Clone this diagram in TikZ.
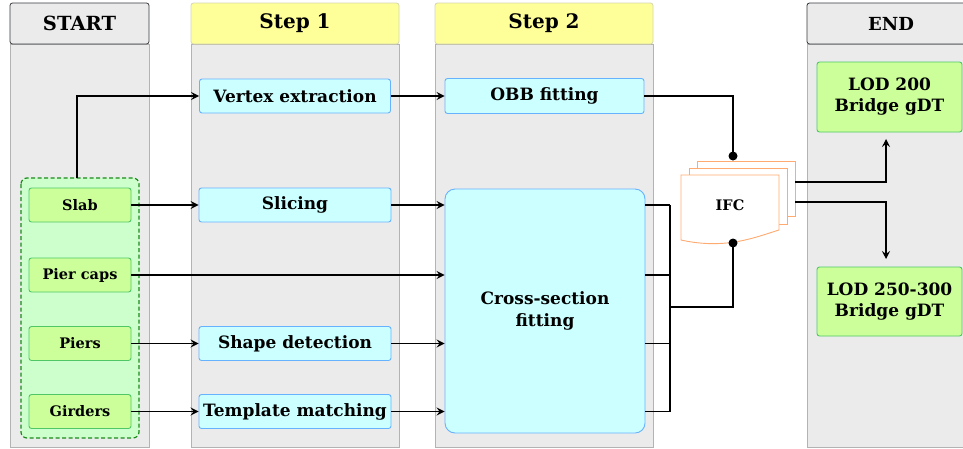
\documentclass[tikz,border=0pt]{standalone}
\usepackage{fontspec}
\setmainfont{DejaVu Serif}
\usetikzlibrary{arrows.meta}
\definecolor{colbg}{HTML}{EBEBEB}
\definecolor{colln}{HTML}{B3B3B3}
\definecolor{hdrln}{HTML}{36393D}
\definecolor{stepfill}{HTML}{FFFF99}
\definecolor{stepln}{HTML}{D6D6B0}
\definecolor{grpfill}{HTML}{CCFFCC}
\definecolor{grpln}{HTML}{1A8A1A}
\definecolor{gfill}{HTML}{CCFF99}
\definecolor{gln}{HTML}{4FC766}
\definecolor{bfill}{HTML}{CCFFFF}
\definecolor{bln}{HTML}{66B2FF}
\definecolor{ifcln}{HTML}{FFAA70}
\tikzset{
  colbody/.style={fill=colbg, draw=colln, line width=0.8pt},
  hdr/.style={rectangle, rounded corners=2.5pt, line width=0.8pt, inner sep=0pt, font=\bfseries\fontsize{20}{24}\selectfont},
  hdrgray/.style={hdr, fill=colbg, draw=hdrln},
  hdrstep/.style={hdr, fill=stepfill, draw=stepln},
  box/.style={rectangle, rounded corners=2.5pt, line width=0.9pt, inner sep=0pt, align=center},
  gnode/.style={box, fill=gfill, draw=gln, minimum width=102pt, minimum height=34pt, font=\bfseries\fontsize{14.5}{17}\selectfont},
  bnode/.style={box, fill=bfill, draw=bln, minimum height=34pt, font=\bfseries\fontsize{17}{22}\selectfont},
  lodnode/.style={box, fill=gfill, draw=gln, minimum width=145pt, minimum height=70pt, font=\bfseries\fontsize{17}{21}\selectfont},
  ln/.style={line width=1.5pt, draw=black},
  arr/.style={ln, -{Stealth[length=8pt,width=8pt,inset=3pt]}},
  docshape/.style={fill=white, draw=ifcln, line width=0.9pt},
  dot/.style={circle, fill=black, inner sep=0pt, minimum size=9pt}
}
\begin{document}
\begin{tikzpicture}[x=1pt, y=-1pt]
\useasboundingbox (0,0) rectangle (963,448);
\clip (0,0) rectangle (963,448);
% columns
\draw[colbody] (10,44) rectangle (149,447.5);
\draw[colbody] (191,44) rectangle (399,447.5);
\draw[colbody] (435,44) rectangle (653,447.5);
\draw[colbody] (807,44) rectangle (975,447.5);
\node[hdrgray, minimum width=139pt, minimum height=41pt, font=\bfseries\fontsize{19.5}{24}\selectfont] (hstart) at (79.5,23.5) {START};
\node[hdrstep, minimum width=208pt, minimum height=41pt] (hstep1) at (295,23.5) {Step 1};
\node[hdrstep, minimum width=218pt, minimum height=41pt] (hstep2) at (544,23.5) {Step 2};
\node[hdrgray, minimum width=168pt, minimum height=41pt, text width=156pt, align=center, font=\bfseries\fontsize{18}{24}\selectfont] (hend) at (891,23.5) {END\hspace*{24pt}};
% group
\draw[fill=grpfill, draw=grpln, dash pattern=on 4pt off 2.5pt, line width=1.2pt, rounded corners=6pt] (21,178) rectangle (139,438);
\coordinate (grptop) at (77,178);
% start nodes
\node[gnode] (slab) at (80,205) {Slab};
\node[gnode] (piercaps) at (80,275) {Pier caps};
\node[gnode] (piers) at (80,343.5) {Piers};
\node[gnode] (girders) at (80,411.5) {Girders};
% step 1
\node[bnode, minimum width=191pt] (vertex) at (295,96) {Vertex extraction};
\node[bnode, minimum width=192pt] (slicing) at (295,205) {Slicing};
\node[bnode, minimum width=192pt] (shape) at (295,343.5) {Shape detection};
\node[bnode, minimum width=192pt] (template) at (295,411.5) {Template matching};
% step 2
\node[bnode, minimum width=199pt, minimum height=35pt] (obb) at (544.5,96) {OBB fitting};
\node[bnode, minimum width=200pt, minimum height=244pt, rounded corners=10pt] (cross) at (545,311) {Cross-section\\fitting};
% IFC multi document
\draw[docshape] (697,161) rectangle (795,216);
\draw[docshape] (689,168) rectangle (787,224);
\draw[docshape] (681,175) -- (779,175) -- (779,230) .. controls (756,237) and (726,250) .. (681,240) -- cycle;
\node[font=\bfseries\fontsize{14.5}{17}\selectfont] (ifc) at (730,205) {IFC};
\coordinate (ifctop) at (733,160);
\coordinate (ifcbot) at (733,243);
\coordinate (ifcout1) at (795,182);
\coordinate (ifcout2) at (795,202);
% end
\node[lodnode] (lod200) at (889.5,97) {LOD 200\\Bridge gDT};
\node[lodnode, minimum height=69pt] (lod250) at (889.5,301.5) {LOD 250-300\\Bridge gDT};
% connectors
\draw[arr] (grptop) |- (vertex.west);
\draw[arr] (slab.east) -- (slicing.west);
\draw[arr] (piercaps.east) -- (piercaps.east -| cross.west);
\draw[arr] (piers.east) -- (shape.west);
\draw[arr] (girders.east) -- (template.west);
\draw[arr] (vertex.east) -- (obb.west);
\draw[arr] (slicing.east) -- (slicing.east -| cross.west);
\draw[arr] (shape.east) -- (shape.east -| cross.west);
\draw[arr] (template.east) -- (template.east -| cross.west);
\coordinate (bus) at (670,307);
\draw[ln] (slicing.east -| cross.east) -- (slicing.east -| bus);
\draw[ln] (piercaps.east -| cross.east) -- (piercaps.east -| bus);
\draw[ln] (shape.east -| cross.east) -- (shape.east -| bus);
\draw[ln] (template.east -| cross.east) -- (template.east -| bus);
\draw[ln] (slicing.east -| bus) -- (template.east -| bus);
\draw[ln] (bus) -| (ifcbot);
\draw[ln] (obb.east) -| (ifctop);
\node[dot] at (733,156) {};
\node[dot] at (ifcbot) {};
\coordinate (lodin1) at (886,132);
\coordinate (lodin2) at (886,267);
\draw[arr, shorten >=7pt] (ifcout1) -| (lodin1);
\draw[arr, shorten >=8pt] (ifcout2) -| (lodin2);
\end{tikzpicture}
\end{document}
